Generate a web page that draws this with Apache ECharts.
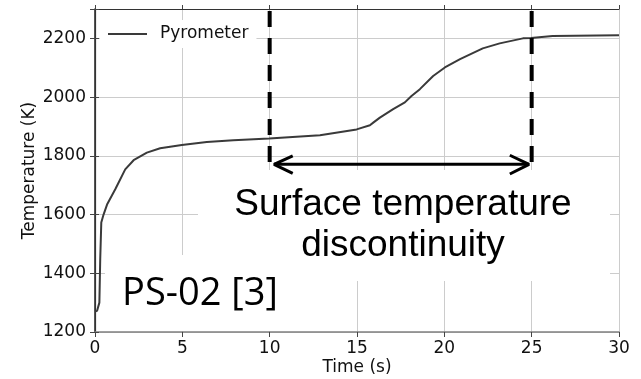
<!DOCTYPE html>
<html>
<head>
<meta charset="utf-8">
<script src="https://cdn.jsdelivr.net/npm/echarts@6/dist/echarts.min.js"></script>
<style>html,body{margin:0;padding:0;background:#fff;}#c{width:641px;height:379px;}</style>
</head>
<body>
<div id="c"></div>
<script>
// Pyrometer reading (time s, temperature K)
const timeS = [0, 0.12, 0.25, 0.3, 0.36, 0.49, 0.69, 1.16, 1.73, 2.21, 2.97, 3.73, 4.97, 6.4, 7.92, 9.97, 12.88, 14.98, 15.74, 15.93, 16.31, 17.07, 17.74, 18.12, 18.6, 19.36, 20.03, 20.9, 22.2, 23.17, 24.5, 24.96, 26.2, 30];
const tempK = [1270, 1272, 1300, 1450, 1573, 1600, 1634, 1686, 1754, 1785, 1811, 1826, 1837, 1847, 1853, 1859, 1870, 1890, 1904, 1913, 1930, 1959, 1982, 2004, 2027, 2072, 2101, 2129, 2166, 2183, 2200, 2201, 2208, 2211];

// annotation geometry in data units
const startMarker = [[10, 2293], [10, 1757]];
const endMarker = [[25, 2293], [25, 1757]];
const arrowShaft = [[10.25, 1771], [24.85, 1771]];
const arrowHeadLeft = [[11.32, 1800], [10.25, 1771], [11.32, 1740]];
const arrowHeadRight = [[23.75, 1802], [24.85, 1771], [23.75, 1738]];

const xTicks = [0, 5, 10, 15, 20, 25, 30];
const yTicks = [1200, 1400, 1600, 1800, 2000, 2200];

const chart = echarts.init(document.getElementById('c'), null, {renderer: 'canvas'});
const font = 'DejaVu Sans';
const annot = (data, extra) => Object.assign({
  type: 'line', data: data, showSymbol: false, silent: true, z: 12,
  lineStyle: {color: '#000', width: 3}, animation: false
}, extra || {});

chart.setOption({
  animation: false,
  grid: {left: 95, right: 22, top: 9, bottom: 47, containLabel: false, outerBoundsMode: 'none'},
  legend: {
    data: ['Pyrometer'], left: 100, top: 20, padding: [4, 8, 4, 8],
    backgroundColor: '#fff', icon: 'rect', itemWidth: 39, itemHeight: 2,
    textStyle: {fontFamily: font, fontSize: 17, color: '#111', lineHeight: 20, padding: [0, 0, 0, 8]},
    z: 6
  },
  xAxis: [{
    type: 'value', min: 0, max: 30, interval: 5,
    name: 'Time (s)', nameLocation: 'middle', nameGap: 27, nameMoveOverlap: false,
    nameTextStyle: {fontFamily: font, fontSize: 17, color: '#111'},
    axisLine: {show: true, onZero: false, lineStyle: {color: '#808080', width: 1.5}},
    axisTick: {show: true, length: 5, lineStyle: {color: '#444'}},
    axisLabel: {fontFamily: font, fontSize: 17, color: '#111', margin: 8,
      formatter: v => xTicks.includes(v) ? String(v) : ''},
    splitLine: {show: true, lineStyle: {color: '#cccccc', width: 1}}
  }, {
    type: 'value', position: 'top', min: 0, max: 30, interval: 5,
    axisLine: {show: true, lineStyle: {color: '#333', width: 1.2}},
    axisTick: {show: true, length: 4, lineStyle: {color: '#444'}},
    axisLabel: {show: false}, splitLine: {show: false}
  }],
  yAxis: [{
    type: 'value', min: 1200, max: 2300, interval: 200,
    name: 'Temperature (K)', nameLocation: 'middle', nameGap: 57, nameMoveOverlap: false,
    nameTextStyle: {fontFamily: font, fontSize: 17, color: '#111'},
    axisLine: {show: true, onZero: false, lineStyle: {color: '#222', width: 1.5}},
    axisTick: {show: true, length: 5, lineStyle: {color: '#444'}},
    axisLabel: {fontFamily: font, fontSize: 17, color: '#111', margin: 9,
      formatter: v => yTicks.includes(v) ? String(v) : ''},
    splitLine: {show: true, lineStyle: {color: '#cccccc', width: 1}}
  }, {
    type: 'value', position: 'right', min: 1200, max: 2300, interval: 200,
    axisLine: {show: true, lineStyle: {color: '#333', width: 1.2}},
    axisTick: {show: true, length: 4, lineStyle: {color: '#444'}},
    axisLabel: {show: false}, splitLine: {show: false}
  }],
  graphic: [
    {type: 'rect', shape: {x: 198, y: 170, width: 412, height: 111}, style: {fill: '#fff'}, z: 5, silent: true},
    {type: 'rect', shape: {x: 105, y: 255, width: 185, height: 76}, style: {fill: '#fff'}, z: 5, silent: true},
    {type: 'text', x: 403, y: 205, z: 6, style: {text: 'Surface temperature', font: '37px "Liberation Sans"', fill: '#000', textAlign: 'center', textVerticalAlign: 'middle'}},
    {type: 'text', x: 403, y: 246, z: 6, style: {text: 'discontinuity', font: '37px "Liberation Sans"', fill: '#000', textAlign: 'center', textVerticalAlign: 'middle'}},
    {type: 'text', x: 200, y: 294, z: 6, style: {text: 'PS-02 [3]', font: '38px "Open Sans"', fill: '#000', textAlign: 'center', textVerticalAlign: 'middle'}}
  ],
  series: [
    {
      name: 'Pyrometer', type: 'line', data: timeS.map((t, i) => [t, tempK[i]]),
      showSymbol: false, smooth: false, z: 10,
      lineStyle: {color: '#3a3a3a', width: 2}, itemStyle: {color: '#3a3a3a'}
    },
    annot(startMarker, {lineStyle: {color: '#000', width: 4, type: [16, 11]}}),
    annot(endMarker, {lineStyle: {color: '#000', width: 4, type: [16, 11]}}),
    annot(arrowShaft),
    annot(arrowHeadLeft),
    annot(arrowHeadRight)
  ]
});
</script>
</body>
</html>
